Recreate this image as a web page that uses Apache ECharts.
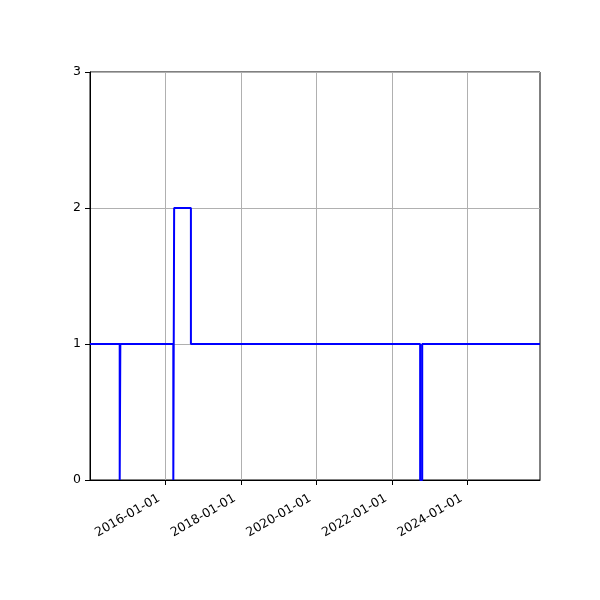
<!DOCTYPE html>
<html>
<head>
<meta charset="utf-8">
<script src="https://cdn.jsdelivr.net/npm/echarts@6/dist/echarts.min.js"></script>
<style>html,body{margin:0;padding:0;background:#fff}#c{width:600px;height:600px}</style>
</head>
<body>
<div id="c"></div>
<script>
const dates = ['2014-01-05','2014-10-19','2014-10-25','2016-03-20','2016-03-28','2016-09-06','2022-09-30','2022-10-20','2025-12-01'];
const values = [1, 0, 1, 0, 2, 1, 0, 1, 1];
const xTickLabels = ['2016-01-01','2018-01-01','2020-01-01','2022-01-01','2024-01-01'];
const yTicks = [0, 1, 2, 3];

const ts = s => new Date(s + 'T00:00:00Z').getTime();
const seriesData = dates.map((d, i) => [ts(d), values[i]]);
const xTickVals = xTickLabels.map(ts);
const pad = n => (n < 10 ? '0' : '') + n;
const fmt = v => { const d = new Date(v); return d.getUTCFullYear() + '-' + pad(d.getUTCMonth() + 1) + '-' + pad(d.getUTCDate()); };

const chart = echarts.init(document.getElementById('c'), null, {renderer: 'canvas'});
chart.setOption({
  animation: false,
  backgroundColor: '#fff',
  grid: {left: 90, right: 60, top: 72, bottom: 120, show: true, borderColor: '#000', borderWidth: 1, containLabel: false},
  xAxis: {
    type: 'value',
    min: ts(dates[0]),
    max: ts(dates[dates.length - 1]),
    axisLine: {show: true, lineStyle: {color: '#000', width: 1}},
    axisTick: {show: true, inside: false, length: 5, lineStyle: {color: '#000', width: 1}, customValues: xTickVals},
    axisLabel: {
      customValues: xTickVals,
      formatter: v => fmt(v),
      rotate: 30, color: '#000', fontFamily: 'DejaVu Sans', fontSize: 12.5, margin: 14,
      padding: [0, 7, 0, 0],
      hideOverlap: false
    },
    splitLine: {show: false}
  },
  yAxis: {
    type: 'value',
    min: yTicks[0], max: yTicks[yTicks.length - 1], interval: 1,
    axisLine: {show: true, lineStyle: {color: '#000', width: 1}},
    axisTick: {show: true, inside: false, length: 5, lineStyle: {color: '#000', width: 1}},
    axisLabel: {color: '#000', fontFamily: 'DejaVu Sans', fontSize: 12.5, margin: 9},
    splitLine: {show: true, lineStyle: {color: '#b0b0b0', width: 1}}
  },
  series: [{
    type: 'line',
    step: 'end',
    data: seriesData,
    showSymbol: false,
    lineStyle: {color: '#0000ff', width: 2},
    itemStyle: {color: '#0000ff'},
    z: 3,
    markLine: {
      silent: true, symbol: 'none', label: {show: false},
      lineStyle: {color: '#b0b0b0', width: 1, type: 'solid'},
      z: 1,
      data: xTickVals.map(v => ({xAxis: v}))
    }
  }]
});
</script>
</body>
</html>
